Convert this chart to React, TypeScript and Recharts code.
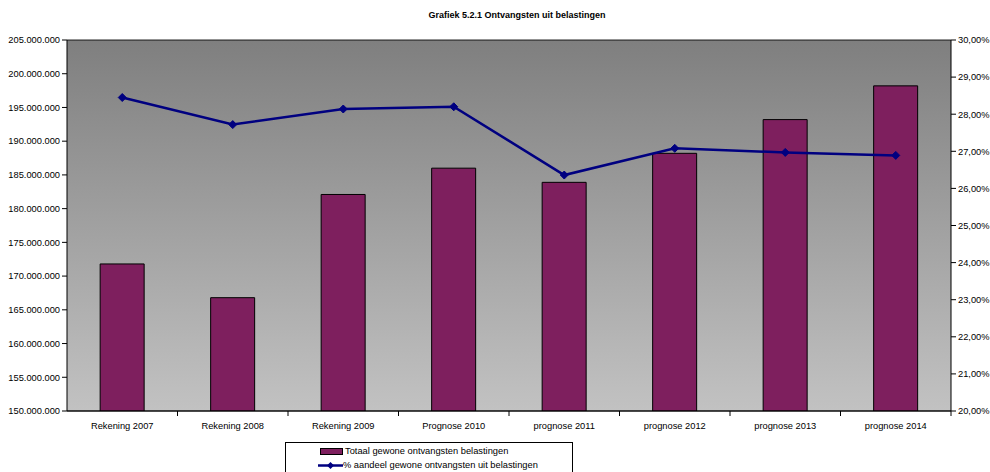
import React from 'react';
import {
  Bar,
  CartesianGrid,
  ComposedChart,
  Line,
  XAxis,
  YAxis,
} from 'recharts';

const categories = [
  'Rekening 2007',
  'Rekening 2008',
  'Rekening 2009',
  'Prognose 2010',
  'prognose 2011',
  'prognose 2012',
  'prognose 2013',
  'prognose 2014',
];
const totaalBelastingen = [
  171800000, 166800000, 182100000, 186000000, 183900000, 188200000, 193200000, 198200000,
];
const aandeelBelastingen = [28.45, 27.72, 28.14, 28.2, 26.36, 27.08, 26.97, 26.89];
const leftTicks = [
  150000000, 155000000, 160000000, 165000000, 170000000, 175000000, 180000000, 185000000,
  190000000, 195000000, 200000000, 205000000,
];
const rightTicks = [20, 21, 22, 23, 24, 25, 26, 27, 28, 29, 30];

const chartData = categories.map((name, i) => ({
  name,
  totaal: totaalBelastingen[i],
  aandeel: aandeelBelastingen[i],
}));

const FONT = '"Liberation Sans", Arial, sans-serif';
const BAR_COLOR = '#7e1f5e';
const LINE_COLOR = '#000080';

const formatAmount = (v: number) => String(v).replace(/\B(?=(\d{3})+(?!\d))/g, '.');
const formatPct = (v: number) => `${v.toFixed(2).replace('.', ',')}%`;

function Diamond({ cx, cy }: { cx?: number; cy?: number }) {
  if (cx == null || cy == null) return null;
  const r = 4;
  return (
    <path
      d={`M${cx},${cy - r} L${cx + r},${cy} L${cx},${cy + r} L${cx - r},${cy} Z`}
      fill={LINE_COLOR}
      stroke={LINE_COLOR}
    />
  );
}

function CategoryTick(props: any) {
  const { x, y, payload } = props;
  const half = payload?.offset ?? 55;
  return (
    <g>
      <line x1={x + half} y1={y - 8} x2={x + half} y2={y - 3} stroke="#000" />
      <text x={x} y={y + 10} textAnchor="middle" fontSize={9.3} fontFamily={FONT} fill="#000">
        {payload.value}
      </text>
    </g>
  );
}

function LegendBox() {
  return (
    <div
      style={{
        position: 'absolute',
        left: 285,
        top: 442,
        width: 288,
        height: 34,
        border: '1px solid #000',
        background: '#fff',
        fontFamily: FONT,
        fontSize: 9.3,
        color: '#000',
        boxSizing: 'border-box',
      }}
    >
      <div style={{ position: 'absolute', left: 34, top: 3, display: 'flex', alignItems: 'center' }}>
        <span
          style={{
            display: 'inline-block',
            width: 21,
            height: 5,
            background: BAR_COLOR,
            border: '1px solid #000',
            marginRight: 2,
          }}
        />
        Totaal gewone ontvangsten belastingen
      </div>
      <div style={{ position: 'absolute', left: 32, top: 17, display: 'flex', alignItems: 'center' }}>
        <svg width={25} height={9}>
          <line x1={0} y1={4.5} x2={25} y2={4.5} stroke={LINE_COLOR} strokeWidth={2.5} />
          <path d="M12.5,1 L16,4.5 L12.5,8 L9,4.5 Z" fill={LINE_COLOR} />
        </svg>
        % aandeel gewone ontvangsten uit belastingen
      </div>
    </div>
  );
}

export default function App() {
  return (
    <div style={{ position: 'absolute', left: 0, top: 0, width: 990, height: 472, background: '#fff', overflow: 'hidden' }}>
      <div
        style={{
          position: 'absolute',
          left: 0,
          width: 1034,
          top: 10,
          textAlign: 'center',
          fontFamily: FONT,
          fontWeight: 'bold',
          fontSize: 9,
          color: '#000',
        }}
      >
        Grafiek 5.2.1 Ontvangsten uit belastingen
      </div>
      <ComposedChart
        width={990}
        height={472}
        data={chartData}
        margin={{ top: 40, right: 0, bottom: 31, left: 0 }}
        barCategoryGap="30%"
      >
        <defs>
          <linearGradient id="plotBackground" x1="0" y1="0" x2="0" y2="1">
            <stop offset="0%" stopColor="#7f7f7f" />
            <stop offset="100%" stopColor="#c2c2c2" />
          </linearGradient>
        </defs>
        <CartesianGrid
          vertical={false}
          stroke="#000"
          strokeOpacity={0.85}
          fill="url(#plotBackground)"
          fillOpacity={1}
        />
        <XAxis
          dataKey="name"
          height={30}
          axisLine={{ stroke: '#000' }}
          tickLine={false}
          tick={<CategoryTick />}
          interval={0}
        />
        <YAxis
          yAxisId="left"
          width={67}
          domain={[150000000, 205000000]}
          ticks={leftTicks}
          allowDataOverflow
          tickFormatter={formatAmount}
          axisLine={{ stroke: '#000' }}
          tickLine={{ stroke: '#000' }}
          tickSize={5}
          tickMargin={2}
          tick={{ fontSize: 9.3, fontFamily: FONT, fill: '#000' }}
        />
        <YAxis
          yAxisId="right"
          orientation="right"
          width={39}
          domain={[20, 30]}
          ticks={rightTicks}
          tickFormatter={formatPct}
          axisLine={{ stroke: '#000' }}
          tickLine={{ stroke: '#000' }}
          tickSize={5}
          tickMargin={2}
          tick={{ fontSize: 9.3, fontFamily: FONT, fill: '#000' }}
        />
        <Bar
          yAxisId="left"
          dataKey="totaal"
          fill={BAR_COLOR}
          stroke="#000"
          strokeWidth={1}
          isAnimationActive={false}
        />
        <Line
          yAxisId="right"
          dataKey="aandeel"
          type="linear"
          stroke={LINE_COLOR}
          strokeWidth={2.5}
          dot={<Diamond />}
          activeDot={false}
          isAnimationActive={false}
        />
      </ComposedChart>
      <LegendBox />
    </div>
  );
}
